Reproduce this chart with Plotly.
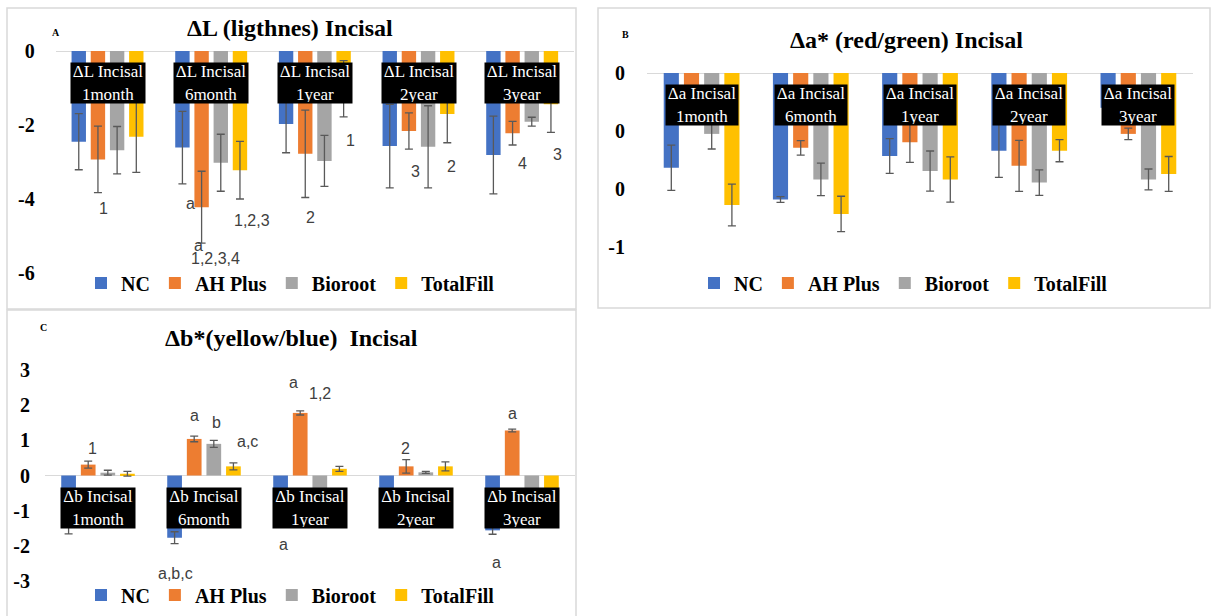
import plotly.graph_objects as go

W, H = 1212, 616

series = ["NC", "AH Plus", "Bioroot", "TotalFill"]
colors = ["#4472C4", "#ED7D31", "#A5A5A5", "#FFC000"]
periods = ["1month", "6month", "1year", "2year", "3year"]

# Panel A: Delta L (lightness) incisal
L_vals = {
    "NC":        [-2.45, -2.61, -1.97, -2.57, -2.81],
    "AH Plus":   [-2.93, -4.22, -2.78, -2.16, -2.22],
    "Bioroot":   [-2.68, -3.02, -2.97, -2.59, -1.91],
    "TotalFill": [-2.32, -3.22, -1.02, -1.70, -1.44],
}
L_err = {
    "NC":        [0.76, 0.98, 0.78, 1.13, 1.05],
    "AH Plus":   [0.90, 0.97, 1.18, 0.49, 0.32],
    "Bioroot":   [0.64, 0.77, 0.69, 1.11, 0.12],
    "TotalFill": [0.96, 0.78, 0.76, 0.78, 0.76],
}
# Panel B: Delta a* (red/green) incisal
a_vals = {
    "NC":        [-0.327, -0.436, -0.286, -0.268, -0.120],
    "AH Plus":   [-0.140, -0.258, -0.239, -0.320, -0.210],
    "Bioroot":   [-0.210, -0.367, -0.338, -0.378, -0.367],
    "TotalFill": [-0.455, -0.486, -0.367, -0.268, -0.348],
}
a_err = {
    "NC":        [0.078, 0.010, 0.060, 0.092, 0.030],
    "AH Plus":   [0.020, 0.025, 0.069, 0.088, 0.020],
    "Bioroot":   [0.052, 0.056, 0.069, 0.044, 0.036],
    "TotalFill": [0.072, 0.061, 0.078, 0.038, 0.060],
}
# Panel C: Delta b* (yellow/blue) incisal
b_vals = {
    "NC":        [-1.44, -1.77, -1.10, -1.28, -1.56],
    "AH Plus":   [0.31, 1.04, 1.78, 0.26, 1.28],
    "Bioroot":   [0.08, 0.90, -0.50, 0.09, -0.55],
    "TotalFill": [0.05, 0.26, 0.19, 0.26, -0.65],
}
b_err = {
    "NC":        [0.22, 0.17, 0.10, 0.10, 0.11],
    "AH Plus":   [0.10, 0.08, 0.06, 0.19, 0.04],
    "Bioroot":   [0.07, 0.10, 0.05, 0.03, 0.05],
    "TotalFill": [0.07, 0.10, 0.07, 0.13, 0.05],
}

# significance letters: (category position, y value, text)
L_sig = [(-0.04, -4.27, "1"), (0.80, -4.11, "a"), (0.88, -5.25, "a"),
         (1.04, -5.62, "1,2,3,4"), (1.39, -4.57, "1,2,3"), (1.96, -4.49, "2"),
         (2.34, -2.41, "1"), (2.97, -3.27, "3"), (3.32, -3.11, "2"),
         (4.00, -3.05, "4"), (4.34, -2.81, "3")]
b_sig = [(-0.05, 0.77, "1"), (0.91, 1.70, "a"), (1.12, 1.51, "b"),
         (1.41, 0.97, "a,c"), (0.73, -2.78, "a,b,c"), (1.84, 2.64, "a"),
         (2.09, 2.33, "1,2"), (1.75, -1.96, "a"), (2.90, 0.77, "2"),
         (3.91, 1.76, "a"), (3.76, -2.47, "a")]

panels = [
    dict(vals=L_vals, err=L_err, ax="", leg="legend", prefix="ΔL Incisal",
         title="ΔL (ligthnes) Incisal", tag="A", sig=L_sig,
         xdom=(55.7, 574), ydom=(51, 273), rng=[-6, 0],
         tv=[0, -2, -4, -6], tt=["0", "-2", "-4", "-6"], tlen=16,
         box_w=72, title_xy=(290, 28), tag_xy=(56, 32), leg_xy=(81, 283)),
    dict(vals=a_vals, err=a_err, ax="2", leg="legend2", prefix="Δa Incisal",
         title="Δa* (red/green) Incisal", tag="B", sig=[],
         xdom=(647, 1193), ydom=(73, 247), rng=[-0.6, 0],
         tv=[0, -0.2, -0.4, -0.6], tt=["0", "0", "0", "-1"], tlen=17,
         box_w=70, title_xy=(906, 40), tag_xy=(625, 35), leg_xy=(694, 283)),
    dict(vals=b_vals, err=b_err, ax="3", leg="legend3", prefix="Δb Incisal",
         title="Δb*(yellow/blue)  Incisal", tag="C", sig=b_sig,
         xdom=(45, 575), ydom=(370, 581), rng=[-3, 3],
         tv=[3, 2, 1, 0, -1, -2, -3], tt=["3", "2", "1", "0", "-1", "-2", "-3"], tlen=10,
         box_w=72, title_xy=(291, 338), tag_xy=(43, 327), leg_xy=(81, 595)),
]

SERIF = "Liberation Serif"
SANS = "Liberation Sans"

fig = go.Figure()
annotations = []
shapes = []
layout = {}

def px_x(v):
    return v / W

def px_y(v):
    return 1 - v / H

for p in panels:
    ax = p["ax"]
    for s, c in zip(series, colors):
        fig.add_trace(go.Bar(
            x=periods, y=p["vals"][s], name=s, marker_color=c,
            marker_line_width=0,
            error_y=dict(type="data", array=p["err"][s], visible=True,
                         color="#595959", thickness=1.3, width=4),
            xaxis="x" + ax, yaxis="y" + ax, legend=p["leg"],
        ))
    layout["xaxis" + ax] = dict(
        domain=[px_x(p["xdom"][0]), px_x(p["xdom"][1])],
        anchor="y" + ax, showticklabels=False, showgrid=False,
        zeroline=False, showline=False, ticks="", fixedrange=True,
        automargin=False,
    )
    layout["yaxis" + ax] = dict(
        domain=[px_y(p["ydom"][1]), px_y(p["ydom"][0])],
        anchor="x" + ax, range=p["rng"], showgrid=False,
        zeroline=True, zerolinecolor="#d9d9d9", zerolinewidth=1.2,
        showline=False, tickvals=p["tv"], ticktext=p["tt"],
        ticks="outside", ticklen=p["tlen"], tickcolor="rgba(0,0,0,0)",
        tickfont=dict(family=SERIF, size=20, color="#000000", weight="bold"),
        fixedrange=True, automargin=False,
    )
    # category labels in black boxes
    for cat in periods:
        annotations.append(dict(
            x=cat, y=0, xref="x" + ax, yref="y" + ax,
            text=p["prefix"] + "<br>" + cat, showarrow=False,
            yanchor="top", yshift=-11, bgcolor="#000000",
            width=p["box_w"], height=38, borderpad=1,
            font=dict(family=SERIF, size=17, color="#ffffff"),
        ))
    # significance letters
    for xv, yv, t in p["sig"]:
        annotations.append(dict(
            x=xv, y=yv, xref="x" + ax, yref="y" + ax, text=t,
            showarrow=False, font=dict(family=SANS, size=16, color="#404040"),
        ))
    # title and panel tag
    annotations.append(dict(
        x=px_x(p["title_xy"][0]), y=px_y(p["title_xy"][1]), xref="paper", yref="paper",
        text=p["title"], showarrow=False, xanchor="center", yanchor="middle",
        font=dict(family=SERIF, size=24, color="#000000", weight="bold"),
    ))
    annotations.append(dict(
        x=px_x(p["tag_xy"][0]), y=px_y(p["tag_xy"][1]), xref="paper", yref="paper",
        text=p["tag"], showarrow=False, xanchor="center", yanchor="middle",
        font=dict(family=SERIF, size=10, color="#000000", weight="bold"),
    ))
    layout[p["leg"]] = dict(
        orientation="h", x=px_x(p["leg_xy"][0]), y=px_y(p["leg_xy"][1]),
        xanchor="left", yanchor="middle", bgcolor="rgba(0,0,0,0)",
        font=dict(family=SERIF, size=20, color="#000000", weight="bold"),
        itemclick=False, itemdoubleclick=False, traceorder="normal",
    )

# panel frames
for x0, y0, x1, y1 in [(7, 8, 576, 309), (598, 8, 1210, 308), (7, 310, 576, 622)]:
    shapes.append(dict(type="rect", xref="paper", yref="paper",
                       x0=px_x(x0), x1=px_x(x1), y0=px_y(y1), y1=px_y(y0),
                       line=dict(color="#d9d9d9", width=1.5), fillcolor="rgba(0,0,0,0)",
                       layer="below"))

fig.update_layout(
    width=W, height=H, autosize=False,
    margin=dict(l=0, r=0, t=0, b=0, pad=0, autoexpand=False),
    paper_bgcolor="#ffffff", plot_bgcolor="rgba(0,0,0,0)",
    barmode="group", bargap=0.26, bargroupgap=0.25,
    annotations=annotations, shapes=shapes, showlegend=True,
    **layout,
)

page_fix = (
    "document.documentElement.style.margin='0';"
    "document.documentElement.style.padding='0';"
    "document.documentElement.style.overflow='hidden';"
    "document.body.style.margin='0';"
    "document.body.style.padding='0';"
    "document.body.style.overflow='hidden';"
    "var gd=document.getElementById('{plot_id}');"
    "gd.style.position='fixed';gd.style.left='0px';gd.style.top='0px';"
)
fig.write_html("out.html", config={"displayModeBar": False}, post_script=page_fix)
